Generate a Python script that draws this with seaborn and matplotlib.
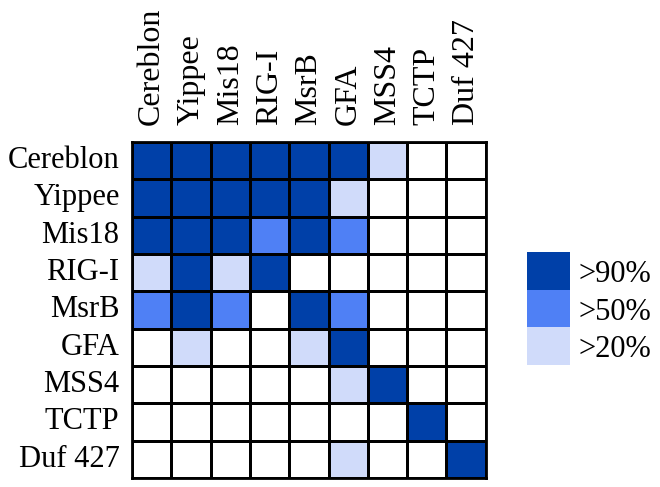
import numpy as np
import pandas as pd
import seaborn as sns
import matplotlib
matplotlib.use("Agg")
import matplotlib.pyplot as plt
from matplotlib.colors import ListedColormap, BoundaryNorm

proteins = ["Cereblon", "Yippee", "Mis18", "RIG-I", "MsrB", "GFA", "MSS4", "TCTP", "Duf 427"]
# 0 = none, 1 = >20%, 2 = >50%, 3 = >90%
levels = [
    [3, 3, 3, 3, 3, 3, 1, 0, 0],
    [3, 3, 3, 3, 3, 1, 0, 0, 0],
    [3, 3, 3, 2, 3, 2, 0, 0, 0],
    [1, 3, 1, 3, 0, 0, 0, 0, 0],
    [2, 3, 2, 0, 3, 2, 0, 0, 0],
    [0, 1, 0, 0, 1, 3, 0, 0, 0],
    [0, 0, 0, 0, 0, 1, 3, 0, 0],
    [0, 0, 0, 0, 0, 0, 0, 3, 0],
    [0, 0, 0, 0, 0, 1, 0, 0, 3],
]
legend_labels = [">90%", ">50%", ">20%"]
legend_levels = [3, 2, 1]

colors = ["#FFFFFF", "#D0DBFA", "#4F80F5", "#0040A8"]
cmap = ListedColormap(colors)
norm = BoundaryNorm([-0.5, 0.5, 1.5, 2.5, 3.5], cmap.N)

sns.set_style("white")
plt.rcParams["font.family"] = ["Liberation Serif", "DejaVu Serif"]
plt.rcParams["text.color"] = "black"
plt.rcParams["xtick.color"] = "black"
plt.rcParams["ytick.color"] = "black"

fig = plt.figure(figsize=(6.6, 4.87), dpi=100)
ax = fig.add_axes([0.2, 0.0185, 0.536, 0.69])
df = pd.DataFrame(levels, index=proteins, columns=proteins)
sns.heatmap(df, ax=ax, cmap=cmap, norm=norm, cbar=False, linewidths=2,
            linecolor="black", square=False)
ax.xaxis.tick_top()
ax.set_xticklabels(proteins, rotation=90, fontsize=23, va="bottom", color="black")
ax.set_yticklabels(proteins, rotation=0, fontsize=22, color="black")
ax.tick_params(axis="both", length=0)
ax.tick_params(axis="x", pad=12)
ax.tick_params(axis="y", pad=9)
ax.set_xlabel("")
ax.set_ylabel("")
for s in ax.spines.values():
    s.set_visible(True)
    s.set_color("black")
    s.set_linewidth(2)

lax = fig.add_axes([527 / 660, 1 - 365 / 487, 43 / 660, 113 / 487])
ldf = pd.DataFrame([[v] for v in legend_levels], index=legend_labels)
sns.heatmap(ldf, ax=lax, cmap=cmap, norm=norm, cbar=False, linewidths=0)
lax.set_xticks([])
lax.yaxis.tick_right()
lax.set_yticklabels(legend_labels, rotation=0, fontsize=22, color="black")
lax.tick_params(axis="y", length=0, pad=6)
lax.set_ylabel("")
lax.set_xlabel("")

fig.savefig("out.png", dpi=100)
